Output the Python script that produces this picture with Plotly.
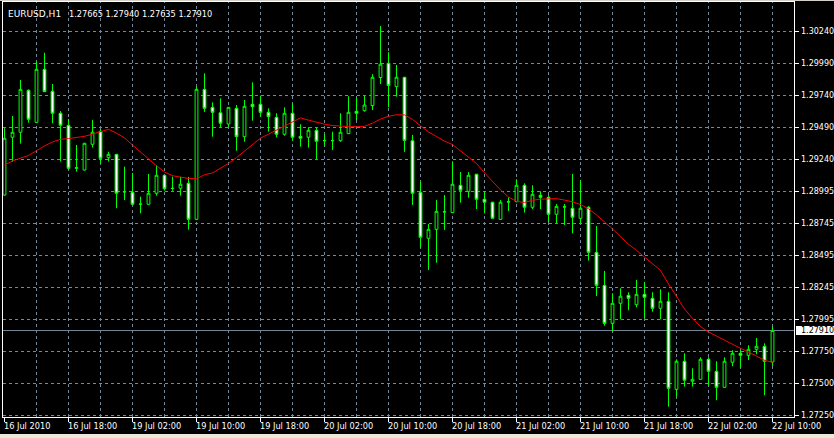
import plotly.graph_objects as go

# ---------------- data (EURUSD, H1) ----------------
open_ = [1.28965, 1.29415, 1.29454, 1.29781, 1.29531, 1.29944, 1.29773, 1.29602, 1.29508, 1.29173,
         1.29160, 1.29360, 1.29461, 1.29256, 1.29282, 1.28989, 1.28986, 1.28893, 1.28893, 1.28979,
         1.29119, 1.29018, 1.29018, 1.29057, 1.28776, 1.29788, 1.29648, 1.29606, 1.29518, 1.29640,
         1.29419, 1.29672, 1.29672, 1.29609, 1.29570, 1.29438, 1.29602, 1.29422, 1.29415, 1.29469,
         1.29390, 1.29390, 1.29388, 1.29443, 1.29617, 1.29622, 1.29662, 1.29880, 1.29991, 1.29809,
         1.29882, 1.29388, 1.28986, 1.28628, 1.28698, 1.28833, 1.28828, 1.29041, 1.28994, 1.29127,
         1.28932, 1.28909, 1.28776, 1.28913, 1.28913, 1.29041, 1.28870, 1.28963, 1.28947, 1.28815,
         1.28874, 1.28862, 1.28784, 1.28870, 1.28519, 1.28262, 1.27966, 1.28122, 1.28184, 1.28111,
         1.28192, 1.28161, 1.28083, 1.28138, 1.27452, 1.27671, 1.27515, 1.27530, 1.27686, 1.27593,
         1.27468, 1.27663, 1.27733, 1.27717, 1.27764, 1.27787, 1.27665]

high = [1.29485, 1.29580, 1.29861, 1.29788, 1.30003, 1.30073, 1.29830, 1.29619, 1.29557, 1.29355,
        1.29372, 1.29549, 1.29479, 1.29302, 1.29285, 1.29186, 1.29137, 1.28952, 1.29129, 1.29197,
        1.29122, 1.29108, 1.29108, 1.29106, 1.29809, 1.29913, 1.29687, 1.29718, 1.29650, 1.29666,
        1.29705, 1.29843, 1.29739, 1.29640, 1.29602, 1.29648, 1.29679, 1.29516, 1.29493, 1.29489,
        1.29438, 1.29458, 1.29602, 1.29734, 1.29726, 1.29736, 1.29906, 1.30281, 1.30077, 1.29978,
        1.29885, 1.29433, 1.29069, 1.28740, 1.28926, 1.28965, 1.29228, 1.29144, 1.29144, 1.29130,
        1.28994, 1.28913, 1.28926, 1.28947, 1.29088, 1.29057, 1.29041, 1.28994, 1.28965, 1.28895,
        1.28895, 1.29129, 1.29080, 1.28880, 1.28724, 1.28374, 1.28200, 1.28239, 1.28208, 1.28304,
        1.28288, 1.28208, 1.28231, 1.28208, 1.27686, 1.27733, 1.27616, 1.27702, 1.27702, 1.27671,
        1.27702, 1.27756, 1.27756, 1.27795, 1.27852, 1.27811, 1.27940]

low = [1.28961, 1.29225, 1.29365, 1.29528, 1.29531, 1.29767, 1.29524, 1.29225, 1.29160, 1.29147,
       1.29155, 1.29334, 1.29212, 1.29225, 1.28862, 1.28926, 1.28890, 1.28823, 1.28890, 1.28960,
       1.28999, 1.28999, 1.28960, 1.28695, 1.28770, 1.29612, 1.29419, 1.29493, 1.29497, 1.29310,
       1.29380, 1.29544, 1.29575, 1.29458, 1.29415, 1.29427, 1.29388, 1.29341, 1.29334, 1.29246,
       1.29349, 1.29316, 1.29380, 1.29440, 1.29549, 1.29614, 1.29627, 1.29830, 1.29648, 1.29731,
       1.29302, 1.28888, 1.28555, 1.28381, 1.28438, 1.28693, 1.28825, 1.28905, 1.28944, 1.28856,
       1.28823, 1.28782, 1.28771, 1.28841, 1.28910, 1.28828, 1.28856, 1.28856, 1.28755, 1.28745,
       1.28732, 1.28667, 1.28745, 1.28454, 1.28179, 1.27948, 1.27901, 1.27998, 1.28068, 1.28091,
       1.28005, 1.28057, 1.27998, 1.27317, 1.27395, 1.27473, 1.27473, 1.27528, 1.27484, 1.27367,
       1.27465, 1.27632, 1.27624, 1.27681, 1.27725, 1.27406, 1.27635]

close = [1.29407, 1.29454, 1.29788, 1.29555, 1.29944, 1.29770, 1.29602, 1.29508, 1.29173, 1.29178,
         1.29368, 1.29454, 1.29251, 1.29282, 1.28979, 1.28991, 1.28893, 1.28895, 1.28979, 1.29119,
         1.29014, 1.29016, 1.29049, 1.28776, 1.29788, 1.29640, 1.29609, 1.29524, 1.29648, 1.29419,
         1.29656, 1.29653, 1.29609, 1.29575, 1.29438, 1.29602, 1.29415, 1.29407, 1.29469, 1.29384,
         1.29388, 1.29388, 1.29454, 1.29609, 1.29602, 1.29666, 1.29882, 1.29984, 1.29818, 1.29883,
         1.29390, 1.28979, 1.28636, 1.28698, 1.28838, 1.28835, 1.29049, 1.29002, 1.29119, 1.28932,
         1.28909, 1.28784, 1.28909, 1.28911, 1.29041, 1.28870, 1.28971, 1.28947, 1.28815, 1.28877,
         1.28872, 1.28792, 1.28862, 1.28519, 1.28262, 1.27966, 1.28122, 1.28177, 1.28161, 1.28192,
         1.28169, 1.28083, 1.28138, 1.27460, 1.27671, 1.27523, 1.27530, 1.27686, 1.27593, 1.27468,
         1.27671, 1.27733, 1.27717, 1.27764, 1.27787, 1.27671, 1.27910]

# moving average (red line)
ma = [1.29199, 1.29230, 1.29252, 1.29273, 1.29310, 1.29348, 1.29378, 1.29399, 1.29405, 1.29412,
      1.29422, 1.29439, 1.29459, 1.29477, 1.29447, 1.29410, 1.29354, 1.29298, 1.29245, 1.29193,
      1.29144, 1.29116, 1.29104, 1.29094, 1.29092, 1.29123, 1.29137, 1.29172, 1.29211, 1.29257,
      1.29306, 1.29362, 1.29408, 1.29439, 1.29470, 1.29501, 1.29531, 1.29566, 1.29548, 1.29531,
      1.29517, 1.29506, 1.29501, 1.29498, 1.29497, 1.29500, 1.29525, 1.29556, 1.29578, 1.29590,
      1.29589, 1.29554, 1.29504, 1.29457, 1.29421, 1.29385, 1.29358, 1.29310, 1.29264, 1.29211,
      1.29138, 1.29071, 1.29005, 1.28950, 1.28916, 1.28907, 1.28924, 1.28933, 1.28937, 1.28937,
      1.28926, 1.28912, 1.28891, 1.28858, 1.28810, 1.28759, 1.28701, 1.28641, 1.28582, 1.28534,
      1.28483, 1.28431, 1.28378, 1.28273, 1.28170, 1.28078, 1.28005, 1.27941, 1.27899, 1.27869,
      1.27836, 1.27803, 1.27772, 1.27743, 1.27711, 1.27678, 1.27663]

y_tick_labels = ["1.30240", "1.29990", "1.29740", "1.29490", "1.29240", "1.28995", "1.28745",
                 "1.28495", "1.28245", "1.27995", "1.27750", "1.27500", "1.27250"]

x_tick_labels = ["16 Jul 2010", "16 Jul 18:00", "19 Jul 02:00", "19 Jul 10:00", "19 Jul 18:00",
                 "20 Jul 02:00", "20 Jul 10:00", "20 Jul 18:00", "21 Jul 02:00", "21 Jul 10:00",
                 "21 Jul 18:00", "22 Jul 02:00", "22 Jul 10:00"]
x_tick_step = 8      # one label every 8 bars
grid_step = 4        # one vertical grid line every 4 bars

symbol = "EURUSD,H1"

# ---------------- layout geometry ----------------
W, H = 834, 438
ML, MR, MT, MB = 3, 40, 2, 21
PW, PH = W - ML - MR, H - MT - MB
BAR_PX = 8.0
FIRST_BAR_PX = 4.5
TOP_TICK_PX, BOT_TICK_PX = 31.3, 415.3

bars = list(range(len(close)))
ytv = [float(s) for s in y_tick_labels]
ppp = (ytv[0] - ytv[-1]) / (BOT_TICK_PX - TOP_TICK_PX)
y_top = ytv[0] + (TOP_TICK_PX - MT) * ppp
y_bot = ytv[-1] - (MT + PH - BOT_TICK_PX) * ppp
x_left = -(FIRST_BAR_PX - ML) / BAR_PX
x_right = (ML + PW - FIRST_BAR_PX) / BAR_PX

FONT = "DejaVu Sans"
FS = 8.2
GRID = "#778899"
GREEN = "#00FF00"
WHITE = "#FFFFFF"

fig = go.Figure()
fig.add_trace(go.Candlestick(
    x=bars, open=open_, high=high, low=low, close=close,
    increasing=dict(line=dict(color=GREEN, width=1), fillcolor="#000000"),
    decreasing=dict(line=dict(color=GREEN, width=1), fillcolor=WHITE),
    whiskerwidth=0, hoverinfo="skip", showlegend=False))
fig.add_trace(go.Scatter(
    x=bars, y=ma, mode="lines", line=dict(color="#FF0000", width=1),
    hoverinfo="skip", showlegend=False))

shapes = []
# vertical dashed grid
for k in range(grid_step, len(close), grid_step):
    shapes.append(dict(type="line", xref="x", yref="paper", x0=k, x1=k, y0=0, y1=1,
                       line=dict(color=GRID, width=1, dash="3px,3px"), layer="below"))
# bid line
shapes.append(dict(type="line", xref="paper", yref="y", x0=0, x1=1, y0=close[-1], y1=close[-1],
                   line=dict(color=GRID, width=1), layer="below"))
# price box on the axis
shapes.append(dict(type="rect", xref="paper", yref="y",
                   x0=(796 - ML) / PW, x1=(W - ML) / PW,
                   y0=close[-1] - 4.5 * ppp, y1=close[-1] + 4.5 * ppp,
                   fillcolor=WHITE, line=dict(width=0), layer="above"))
# window edges
shapes.append(dict(type="line", xref="paper", yref="paper", x0=-ML / PW, x1=(W - ML) / PW,
                   y0=1 + (MT - 0.5) / PH, y1=1 + (MT - 0.5) / PH,
                   line=dict(color="#D4D0C8", width=1)))
shapes.append(dict(type="rect", xref="paper", yref="paper",
                   x0=-ML / PW - 0.01, x1=(W - ML) / PW + 0.01,
                   y0=-(H - (MT + PH)) / PH - 0.01, y1=-(434 - (MT + PH)) / PH,
                   fillcolor="#ECE9D8", line=dict(width=0)))

annotations = []
lab_y = -(426 - (MT + PH)) / PH
for i, lab in enumerate(x_tick_labels):
    annotations.append(dict(x=i * x_tick_step, xref="x", y=lab_y, yref="paper",
                            xanchor="left", yanchor="middle", text=lab, showarrow=False,
                            xshift=-1, borderpad=0, borderwidth=0,
                            font=dict(family=FONT, size=FS, color=WHITE)))
# title + OHLC of last bar
ty = 1 - (14.3 - MT) / PH
annotations.append(dict(x=(8 - ML) / PW, xref="paper", y=ty, yref="paper", xanchor="left",
                        yanchor="middle", text=symbol, showarrow=False, borderpad=0,
                        borderwidth=0, font=dict(family=FONT, size=9, color=WHITE)))
annotations.append(dict(x=(69 - ML) / PW, xref="paper", y=ty, yref="paper", xanchor="left",
                        yanchor="middle", showarrow=False, borderpad=0, borderwidth=0,
                        text=" ".join(f"{v:.5f}" for v in (open_[-1], high[-1], low[-1], close[-1])),
                        font=dict(family=FONT, size=FS, color=WHITE)))
# price-axis labels (left aligned next to the tick marks) and the bid label
YL_FS = 8
for v, s in zip(ytv, y_tick_labels):
    annotations.append(dict(x=(800.5 - ML) / PW, xref="paper", y=v, yref="y", xanchor="left",
                            yanchor="middle", text=s, showarrow=False, borderpad=0,
                            borderwidth=0, font=dict(family=FONT, size=YL_FS, color=WHITE)))
annotations.append(dict(x=(800.5 - ML) / PW, xref="paper", y=close[-1], yref="y", xanchor="left",
                        yanchor="middle", text=f"{close[-1]:.5f}", showarrow=False, borderpad=0,
                        borderwidth=0, font=dict(family=FONT, size=YL_FS, color="#000000")))

fig.update_layout(
    width=W, height=H, margin=dict(l=ML, r=MR, t=MT, b=MB, pad=0, autoexpand=False),
    paper_bgcolor="#000000", plot_bgcolor="#000000",
    showlegend=False, boxgap=0.5, hovermode=False,
    shapes=shapes, annotations=annotations,
    xaxis=dict(range=[x_left, x_right], showgrid=False, zeroline=False,
               tickvals=list(range(0, len(close), x_tick_step)), ticks="outside",
               ticklen=4, tickcolor=WHITE, tickwidth=1, showticklabels=False,
               showline=True, linecolor=WHITE, linewidth=1, mirror=True,
               rangeslider=dict(visible=False), fixedrange=True),
    yaxis=dict(range=[y_bot, y_top], side="right", tickvals=ytv,
               ticks="outside", ticklen=4, tickcolor=WHITE, tickwidth=1,
               showticklabels=False,
               showgrid=True, gridcolor=GRID, gridwidth=1, griddash="3px,3px",
               zeroline=False, showline=True, linecolor=WHITE, linewidth=1,
               mirror=True, fixedrange=True),
)

fig.write_html("out.html", config={"displayModeBar": False, "staticPlot": True},
               post_script="document.body.style.margin='0';document.body.style.padding='0';"
                           "document.body.style.overflow='hidden';")
